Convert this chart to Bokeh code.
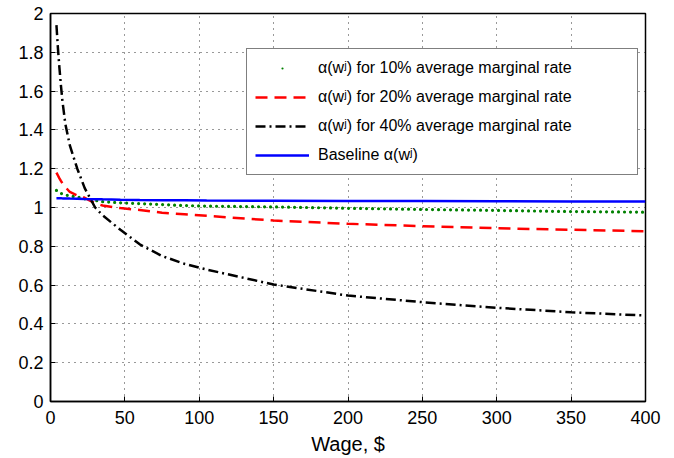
from bokeh.plotting import figure
from bokeh.models import Range1d, FixedTicker, Legend, LegendItem
from bokeh.embed import file_html
from bokeh.resources import INLINE

# ---- data ----
wage = [4, 5, 6, 7, 8, 10, 13, 18, 23, 30, 35, 47, 60, 75, 90, 105, 150, 200, 250, 300, 350, 400]
alpha_10 = [1.088, 1.082, 1.077, 1.073, 1.07, 1.065, 1.06, 1.054, 1.045, 1.036, 1.03, 1.024,
            1.02, 1.015, 1.01, 1.007, 1.003, 0.996, 0.99, 0.985, 0.979, 0.976]
alpha_20 = [1.18, 1.165, 1.15, 1.137, 1.125, 1.105, 1.08, 1.062, 1.05, 1.022, 1.01, 0.997,
            0.987, 0.973, 0.965, 0.957, 0.933, 0.916, 0.904, 0.893, 0.885, 0.878]
alpha_40 = [1.94, 1.82, 1.72, 1.63, 1.55, 1.43, 1.32, 1.20, 1.10, 1.00, 0.96, 0.885,
            0.81, 0.75, 0.71, 0.68, 0.603, 0.546, 0.512, 0.483, 0.46, 0.443]
alpha_base = [1.048, 1.048, 1.048, 1.048, 1.047, 1.047, 1.046, 1.045, 1.044, 1.043, 1.042, 1.04,
              1.039, 1.038, 1.037, 1.036, 1.035, 1.034, 1.033, 1.032, 1.031, 1.031]

x_ticks = [0, 50, 100, 150, 200, 250, 300, 350, 400]
x_tick_labels = ["0", "50", "100", "150", "200", "250", "300", "350", "400"]
y_ticks = [0, 0.2, 0.4, 0.6, 0.8, 1, 1.2, 1.4, 1.6, 1.8, 2]
y_tick_labels = ["0", "0.2", "0.4", "0.6", "0.8", "1", "1.2", "1.4", "1.6", "1.8", "2"]

legend_labels = ["\u03b1(w\u02b2) for 10% average marginal rate",
                 "\u03b1(w\u02b2) for 20% average marginal rate",
                 "\u03b1(w\u02b2) for 40% average marginal rate",
                 "Baseline \u03b1(w\u02b2)"]
x_label = "Wage, $"

FONT = "Liberation Sans"

p = figure(width=665, height=458, output_backend="svg", toolbar_location=None,
           x_range=Range1d(0, 400), y_range=Range1d(0, 2),
           min_border_left=50, min_border_right=20, min_border_top=13, min_border_bottom=57)
p.background_fill_color = "white"
p.border_fill_color = "white"
p.outline_line_color = "black"
p.outline_line_width = 1.5

for ax in (p.xaxis[0], p.yaxis[0]):
    ax.axis_line_color = "black"
    ax.axis_line_width = 1.5
    ax.major_tick_in = 5
    ax.major_tick_out = 0
    ax.minor_tick_line_color = None
    ax.major_tick_line_color = "black"
    ax.major_tick_line_width = 1
    ax.major_label_text_font = FONT
    ax.major_label_text_font_size = "18px"
    ax.major_label_text_color = "black"

p.xaxis.ticker = FixedTicker(ticks=x_ticks)
p.yaxis.ticker = FixedTicker(ticks=y_ticks)
p.xaxis.major_label_overrides = {t: l for t, l in zip(x_ticks, x_tick_labels)}
p.yaxis.major_label_overrides = {t: l for t, l in zip(y_ticks, y_tick_labels)}
p.xaxis.major_label_standoff = 9
p.yaxis.major_label_standoff = 7
p.xaxis.axis_label = x_label
p.xaxis.axis_label_text_font = FONT
p.xaxis.axis_label_text_font_size = "20px"
p.xaxis.axis_label_text_font_style = "normal"
p.xaxis.axis_label_text_color = "black"
p.xaxis.axis_label_standoff = 6

# grid
for g in (p.xgrid[0], p.ygrid[0]):
    g.grid_line_color = "black"
    g.grid_line_alpha = 0.8
    g.grid_line_width = 1
    g.grid_line_dash = "1 5"

# series
r10 = p.line(wage, alpha_10, line_color="#008000", line_width=3.2,
             line_dash="0 6", line_cap="round")
r20 = p.line(wage, alpha_20, line_color="#ff0000", line_width=2.5, line_dash="12 7")
r40 = p.line(wage, alpha_40, line_color="black", line_width=2.5, line_dash="10 4 2 4")
rb = p.line(wage, alpha_base, line_color="#0000ff", line_width=2.5)
# legend-only marker (single small green dot, as in the reference legend)
dot = p.scatter(wage, alpha_10, marker="dot", size=12, fill_color="#008000",
                line_color="#008000", line_width=1, visible=False)

legend = Legend(items=[LegendItem(label=legend_labels[0], renderers=[dot]),
                       LegendItem(label=legend_labels[1], renderers=[r20]),
                       LegendItem(label=legend_labels[2], renderers=[r40]),
                       LegendItem(label=legend_labels[3], renderers=[rb])],
                location=(196, 226))
legend.label_text_font = FONT
legend.label_text_font_size = "16px"
legend.label_text_color = "black"
legend.glyph_width = 54
legend.glyph_height = 22
legend.label_height = 22
legend.label_width = 311
legend.label_standoff = 9
legend.spacing = 7
legend.padding = 8
legend.margin = 0
legend.border_line_color = "black"
legend.border_line_width = 1.5
legend.background_fill_color = "white"
legend.background_fill_alpha = 1
p.add_layout(legend, "center")

open("out.html", "w").write(file_html(p, INLINE))
